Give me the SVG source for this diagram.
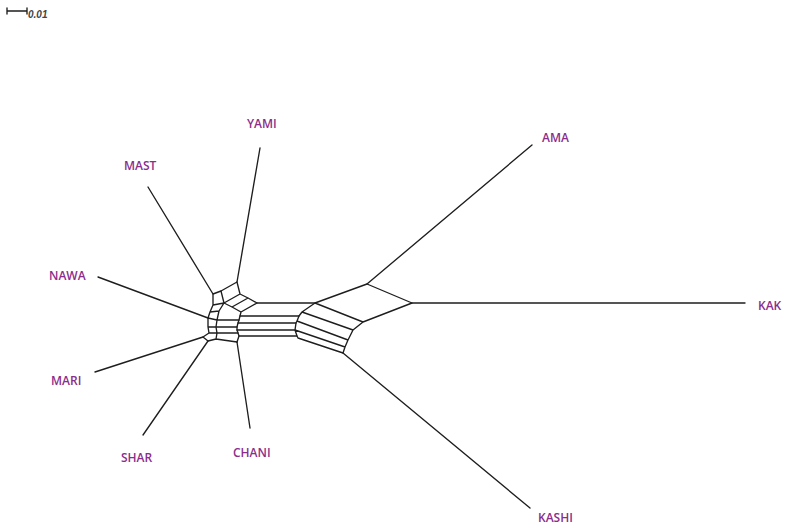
<svg xmlns="http://www.w3.org/2000/svg" width="787" height="527" viewBox="0 0 787 527">
<style>
.e{fill:none;stroke:#1e1e1e;stroke-width:1.35;stroke-linejoin:round;stroke-linecap:round}
.lbl{font-family:"Open Sans","Liberation Sans",sans-serif;font-size:12px;font-weight:600;fill:#8b2d8b}
.sc{font-family:"Liberation Sans",sans-serif;font-size:10px;font-style:italic;font-weight:bold;fill:#444}
</style>
<rect width="787" height="527" fill="#fff"/>
<g id="scale">
<path class="e" d="M7 11H27M7 8V14M27 8V14" stroke="#444"/>
<text class="sc" x="28" y="18">0.01</text>
</g>
<g id="connectors">
<path class="e" d="M260 148L237 282M148 187L213 294M98 277L208 318M95 372L203 337M143 435L208 341M250 428L237 342M532 145L367 284M745 303L412 303M530 508L343 353"/>
<path class="e" d="M237 282L240 294L248 298L257 303M237 282L221 291L224 303M240 294L224 303M248 298L232 307M224 303L232 307L241 312M257 303L241 312L240 316L239 320L238 323L237 327L237 330L238 333L239 336L237 342"/>
<path class="e" d="M224 303L219 311L217 320L216 327L217 333L216 339M213 294L213 305L210 312L208 318L208 327L209 333M213 294L221 291M213 305L224 303M210 312L219 311M208 318L217 320M208 327L216 327M209 333L217 333M217 320L239 320M216 327L237 327M217 333L238 333M216 339L237 342M209 333L203 337L208 341L216 339"/>
<path class="e" d="M257 303H315M240 316H299M238 323H296M237 330H295M239 336H297"/>
<path class="e" d="M315 303L367 284L412 303L363 322Z M315 303L302 312L299 316L297 321L296 323L295 330L297 336L298 338M363 322L353 330L348 340L345 347L343 353M302 312L353 330M297 321L348 340M295 330L345 347M298 338L343 353"/>
</g>
<g id="YAMI"><text class="lbl" x="247" y="128">YAMI</text></g>
<g id="MAST"><text class="lbl" x="124" y="170">MAST</text></g>
<g id="NAWA"><text class="lbl" x="49" y="280">NAWA</text></g>
<g id="MARI"><text class="lbl" x="51" y="385">MARI</text></g>
<g id="SHAR"><text class="lbl" x="121" y="462">SHAR</text></g>
<g id="CHANI"><text class="lbl" x="233" y="457">CHANI</text></g>
<g id="AMA"><text class="lbl" x="542" y="142">AMA</text></g>
<g id="KAK"><text class="lbl" x="758" y="310">KAK</text></g>
<g id="KASHI"><text class="lbl" x="538" y="522">KASHI</text></g>
</svg>
